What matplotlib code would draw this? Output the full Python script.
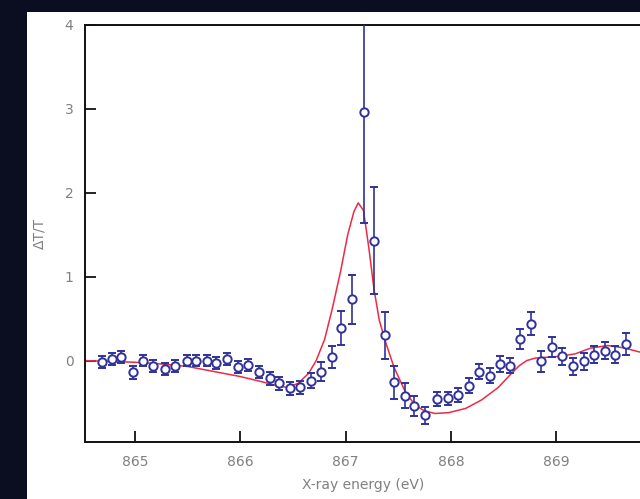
import matplotlib
matplotlib.use("Agg")
import matplotlib.pyplot as plt
from matplotlib.patches import Rectangle

# measured points (x-ray energy, eV) with dT/T and error
energy = [864.685, 864.78, 864.87, 864.98, 865.08, 865.17, 865.28, 865.38, 865.49, 865.58,
          865.68, 865.77, 865.87, 865.98, 866.07, 866.18, 866.28, 866.37, 866.47, 866.57,
          866.67, 866.77, 866.87, 866.96, 867.06, 867.17, 867.27, 867.37, 867.46, 867.56,
          867.65, 867.75, 867.87, 867.97, 868.07, 868.17, 868.27, 868.37, 868.47, 868.56,
          868.66, 868.76, 868.86, 868.96, 869.06, 869.16, 869.26, 869.36, 869.46, 869.56,
          869.66]
dTT = [-0.02, 0.02, 0.04, -0.14, 0.0, -0.06, -0.10, -0.06, 0.0, 0.0,
       0.0, -0.03, 0.02, -0.08, -0.05, -0.14, -0.21, -0.27, -0.33, -0.32,
       -0.24, -0.13, 0.04, 0.39, 0.73, 2.96, 1.43, 0.30, -0.26, -0.42,
       -0.54, -0.65, -0.46, -0.45, -0.41, -0.30, -0.13, -0.18, -0.04, -0.06,
       0.26, 0.44, -0.01, 0.16, 0.05, -0.07, -0.01, 0.07, 0.12, 0.07,
       0.20]
err = [0.07, 0.07, 0.07, 0.08, 0.07, 0.07, 0.07, 0.07, 0.07, 0.07,
       0.07, 0.07, 0.07, 0.07, 0.07, 0.07, 0.08, 0.08, 0.08, 0.08,
       0.09, 0.11, 0.13, 0.20, 0.29, 1.32, 0.64, 0.28, 0.20, 0.15,
       0.12, 0.10, 0.08, 0.08, 0.08, 0.09, 0.09, 0.09, 0.09, 0.09,
       0.12, 0.14, 0.12, 0.12, 0.10, 0.10, 0.10, 0.10, 0.10, 0.10,
       0.13]

# fitted curve (red)
fit_x = [864.52, 864.8, 865.0, 865.25, 865.5, 865.75, 866.0, 866.2, 866.35, 866.45,
         866.55, 866.65, 866.72, 866.8, 866.87, 866.95, 867.02, 867.08, 867.12, 867.17,
         867.22, 867.27, 867.32, 867.38, 867.46, 867.57, 867.66, 867.75, 867.85, 867.98,
         868.14, 868.29, 868.45, 868.57, 868.65, 868.72, 868.8, 869.02, 869.18, 869.33,
         869.49, 869.65, 869.8]
fit_y = [0.0, -0.01, -0.02, -0.04, -0.07, -0.13, -0.19, -0.25, -0.30, -0.32,
         -0.27, -0.15, 0.0, 0.25, 0.60, 1.05, 1.50, 1.78, 1.88, 1.79,
         1.35, 0.85, 0.48, 0.22, -0.08, -0.38, -0.53, -0.60, -0.63, -0.62,
         -0.57, -0.47, -0.32, -0.16, -0.06, 0.0, 0.03, 0.05, 0.08, 0.15,
         0.18, 0.15, 0.10]

xticks = [865, 866, 867, 868, 869]
yticks = [0, 1, 2, 3, 4]

fig = plt.figure(figsize=(6.4, 4.99), dpi=100, facecolor="#0b0e20")
# white slide panel behind the plot
fig.patches.append(Rectangle((27 / 640, 0), 1 - 27 / 640, 1 - 12 / 499,
                             transform=fig.transFigure, facecolor="white",
                             edgecolor="none", zorder=-10))

ax = fig.add_axes([84.5 / 640, 1 - 442 / 499, 558 / 640, (442 - 25) / 499])
ax.set_facecolor("none")
ax.set_zorder(5)

ax.plot(fit_x, fit_y, color="#ec2a44", lw=1.1, zorder=2)
ax.errorbar(energy, dTT, yerr=err, fmt="o", ms=6, mfc="white", mec="#30329a",
            mew=1.4, ecolor="#30329a", elinewidth=1.2, capsize=3, capthick=1.2,
            zorder=3)

ax.set_xlim(864.52, 869.82)
ax.set_ylim(-0.97, 4)
ax.set_xticks(xticks)
ax.set_yticks(yticks)
ax.tick_params(direction="in", length=8, width=1.3, colors="#111111",
               labelcolor="#808080", labelsize=10)
ax.tick_params(axis="x", pad=9)
ax.tick_params(axis="y", pad=8)
for s in ax.spines.values():
    s.set_linewidth(1.4)
    s.set_color("#111111")

ax.set_xlabel("X-ray energy (eV)", color="#808080", fontsize=10, labelpad=7)
ax.set_ylabel("ΔT/T", color="#808080", fontsize=10, labelpad=13)

fig.savefig("out.png", dpi=100, facecolor=fig.get_facecolor())
